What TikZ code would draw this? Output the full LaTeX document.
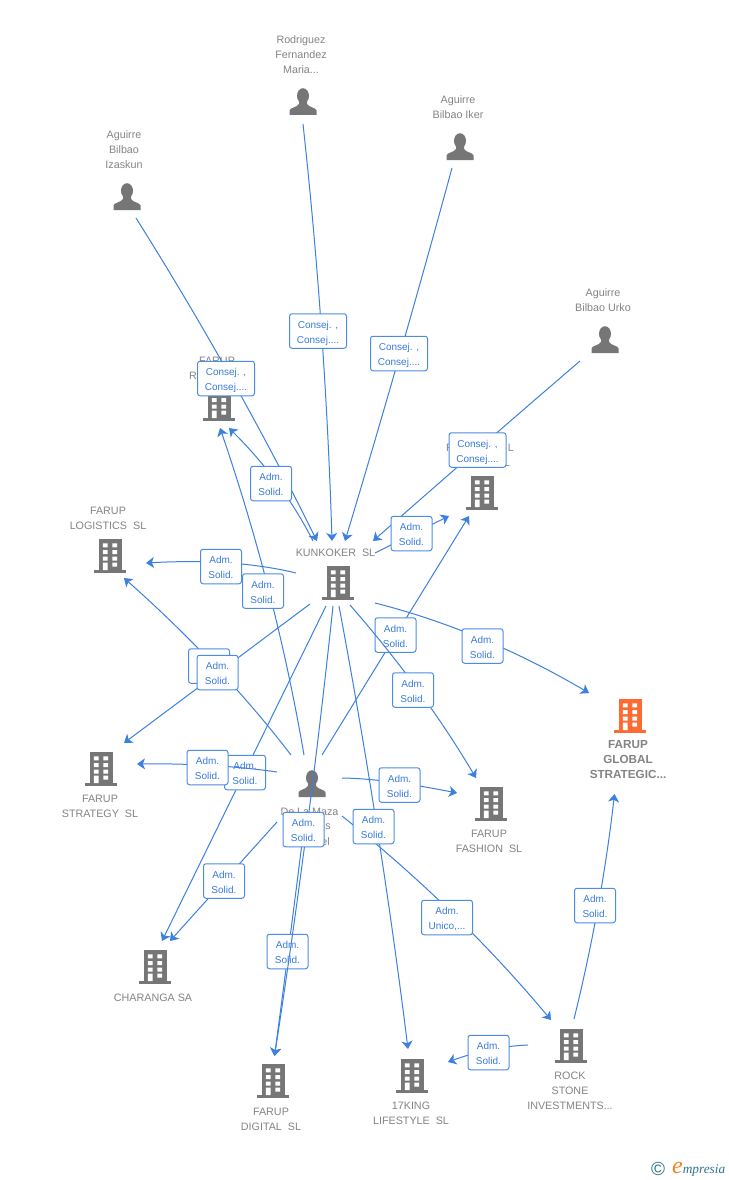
\documentclass[tikz,border=0pt]{standalone}
\usepackage{fontspec}
\setmainfont{Liberation Sans}
\newfontfamily\logofont{Liberation Serif}
\usetikzlibrary{arrows.meta,calc}
\definecolor{ln}{HTML}{3C80E0}
\definecolor{bd}{HTML}{4C8CE4}
\definecolor{tx}{HTML}{3A7BDC}
\definecolor{gr}{HTML}{767676}
\definecolor{cp}{HTML}{848484}
\definecolor{hot}{HTML}{FF6A33}
\definecolor{logoteal}{HTML}{2F7391}
\definecolor{logoor}{HTML}{F58220}
\tikzset{
  link/.style={draw=ln,line width=1pt,-{Stealth[length=8pt,width=11pt,inset=2.2pt]}},
  lab/.style={draw=bd,fill=white,line width=1pt,rounded corners=2.5pt,align=center,text=tx,
    font=\fontsize{10}{15}\selectfont,inner sep=0pt,minimum height=34.5pt},
  adm/.style={lab,minimum width=41pt},
  con/.style={lab,minimum width=57pt},
  uni/.style={lab,minimum width=51pt},
  capt/.style={text=cp,align=center,inner sep=0pt,yshift=-0.8pt,font=\fontsize{10.75}{15}\selectfont},
  bcapt/.style={capt,font=\fontsize{11.7}{15}\selectfont\bfseries},
  iconbox/.style={inner sep=0pt,minimum width=32pt,minimum height=35pt}
}
% \bldg{name}{x,y}{colour}
\newcommand\bldg[3]{%
  \node[iconbox] (#1) at (#2) {};
  \begin{scope}[shift={(#1.center)}]
    \fill[#3] (-11.5,-17) rectangle (11.5,15);
    \fill[#3] (-16,14) rectangle (16,17);
    \fill[white] (-7.1,-12.7) rectangle (-2.4,-8.7) (2.3,-12.7) rectangle (7.1,-8.7)
                 (-7.1,-6) rectangle (-2.4,-2) (2.3,-6) rectangle (7.1,-2)
                 (-7.1,0.7) rectangle (-2.4,4.7) (2.3,0.7) rectangle (7.1,4.7)
                 (-7.1,6.7) rectangle (-2.4,14) (2.3,6.7) rectangle (7.1,10.7);
  \end{scope}}
% \pers{name}{x,y}
\newcommand\pers[2]{%
  \node[iconbox,minimum width=27pt,minimum height=27pt] (#1) at (#2) {};
  \begin{scope}[shift={(#1.center)}]
    \fill[gr] (0,-6.2) ellipse (6 and 7.6);
    \fill[gr] (-13.5,13) -- (-13.5,8.5) .. controls (-13,5.5) and (-6,5.5) .. (-4,2)
      -- (-4,-2) -- (4,-2) -- (4,2) .. controls (6,5.5) and (13,5.5) .. (13.5,8.5) -- (13.5,13) -- cycle;
  \end{scope}}
% \lnk{id}{start}{end}{label style}{label pos}{label text}{point the line passes at its middle}
\newcommand\lnk[7]{%
  \coordinate (#1s) at (#2);
  \coordinate (#1t) at (#3);
  \coordinate (#1m) at (#7);
  \draw[link] (#1s) .. controls ($1.3333*(#1m)-0.3333*(#1t)$) and ($1.3333*(#1m)-0.3333*(#1s)$) .. (#1t);
  \node[#4] (#1l) at (#5) {#6};}
\newcommand\AS{\rule{0pt}{11.5pt}Adm.\\Solid.\rule[-2.5pt]{0pt}{2.5pt}}
\newcommand\CC{\rule{0pt}{11.5pt}Consej. ,\\Consej....\rule[-2.5pt]{0pt}{2.5pt}}
\begin{document}
\begin{tikzpicture}[x=1pt,y=-1pt]
\useasboundingbox (0,0) rectangle (728,1180);
\fill[white] (0,0) rectangle (728,1180);

% captions
\node[capt] (tRod) at (301,54) {Rodriguez\\Fernandez\\Maria...};
\node[capt] (tIker) at (458,106.5) {Aguirre\\Bilbao Iker};
\node[capt] (tIza) at (124,149) {Aguirre\\Bilbao\\Izaskun};
\node[capt] (tUrko) at (603,299.5) {Aguirre\\Bilbao Urko};
\node[capt] (tRa) at (217,360) {FARUP};
\node[capt,anchor=west] (tRb) at (189,375) {R};
\node[capt,anchor=west] (tGa) at (446,447) {F};
\node[capt,anchor=east] (tGb) at (514,447) {L};
\node[capt,anchor=east] (tGc) at (510,462) {L};
\node[capt] (tKun) at (335.5,552) {KUNKOKER~~SL};
\node[capt] (tLog) at (108,517.5) {FARUP\\LOGISTICS~~SL};
\node[capt] (tStr) at (100,805.5) {FARUP\\STRATEGY~~SL};
\node[capt] (tFas) at (489,840.5) {FARUP\\FASHION~~SL};
\node[capt] (tCha) at (153,997) {CHARANGA SA};
\node[capt] (tDig) at (271,1118.5) {FARUP\\DIGITAL~~SL};
\node[capt] (tKing) at (411,1112.5) {17KING\\LIFESTYLE~~SL};
\node[capt] (tRock) at (570,1090) {ROCK\\STONE\\INVESTMENTS...};
\node[bcapt] (tGlo) at (628,759) {FARUP\\GLOBAL\\STRATEGIC...};
\node[capt] (tMa) at (309.5,811) {De La Maza};
\node[capt,anchor=east] (tMb) at (331,826) {s};
\node[capt,anchor=east] (tMc) at (330,841) {el};

% icons
\pers{izaskun}{127,197}
\pers{rodriguez}{303,102}
\pers{iker}{460,147}
\pers{urko}{605,340}
\pers{maza}{312,784}
\bldg{retail}{219,404}{gr}
\bldg{global}{482,493}{gr}
\bldg{kunkoker}{338,583}{gr}
\bldg{logistics}{110,556}{gr}
\bldg{strategy}{101,769}{gr}
\bldg{fashion}{491,804}{gr}
\bldg{charanga}{155,967}{gr}
\bldg{digital}{273,1081}{gr}
\bldg{king}{412,1076}{gr}
\bldg{rock}{571,1046}{gr}
\bldg{target}{630,716}{hot}

% connectors and their labels, in stacking order
\lnk{a}{136,218}{317,541}{con}{226,378.5}{\CC}{230.5,377}
\lnk{b}{303,124}{332,541}{con}{318,331}{\CC}{321.5,331}
\lnk{c}{452,168}{345,541}{con}{399,353.5}{\CC}{400,354}
\lnk{d}{580,361}{373,541}{con}{477.5,450}{\CC}{477,450}
\lnk{e}{313,541}{229,428}{adm}{271,483.5}{\AS}{277,483}
\lnk{f}{375,553}{449,516}{adm}{411.5,533.5}{\AS}{412,534.5}
\lnk{g}{296,573}{146,563}{adm}{221,566.5}{\AS}{228,563}
\lnk{h}{304,755}{220,428}{adm}{263,591}{\AS}{269,591.5}
\lnk{i}{291,755}{124,578}{adm}{209,666}{\AS}{215,666}
\lnk{j}{310,604}{124,743}{adm}{217.5,672.5}{\AS}{217,673.5}
\lnk{k}{322,755}{469,516}{adm}{395.5,635}{\AS}{395.5,635.5}
\lnk{l}{350,605}{476,778}{adm}{413,690}{\AS}{418,690}
\lnk{m}{375,603}{589,693}{adm}{482.5,646}{\AS}{482,639}
\lnk{n}{326,606}{162,941}{adm}{245,772.5}{\AS}{244,773.5}
\lnk{o}{277,772}{137,764}{adm}{207.5,767.5}{\AS}{211,765.5}
\lnk{p}{277,822}{170,941}{adm}{224,881}{\AS}{223.5,881.5}
\lnk{q}{342,778}{457,793}{adm}{399.5,785}{\AS}{392,782}
\lnk{r}{342,816}{551,1020}{uni}{447,917.5}{\rule{0pt}{11.5pt}Adm.\\Unico,...\rule[-2.5pt]{0pt}{2.5pt}}{451.5,912.5}
\lnk{s}{339,606}{408,1049}{adm}{373.5,826.5}{\AS}{377,827.5}
\lnk{u}{303,835}{274.5,1056}{adm}{287.5,951.5}{\AS}{289,945.5}
\lnk{t}{333,606}{274.5,1056}{adm}{303.5,829.5}{\AS}{306.5,831}
\lnk{v}{528,1045}{448,1062}{adm}{488.5,1052.5}{\AS}{489,1050}
\lnk{w}{574,1019}{614.5,794}{adm}{595,905.5}{\AS}{598,906.5}

% footer mark
\node[inner sep=0pt,text=logoteal,font=\fontsize{19}{19}\selectfont] (copy) at (658,1169) {©};
\node[inner sep=0pt,anchor=base west,font=\logofont\itshape] (brand) at (672,1173.5)
  {\textcolor{logoor}{\fontsize{24}{24}\selectfont e}\textcolor{logoteal}{\fontsize{13.3}{13.3}\selectfont mpresia}};
\end{tikzpicture}
\end{document}
